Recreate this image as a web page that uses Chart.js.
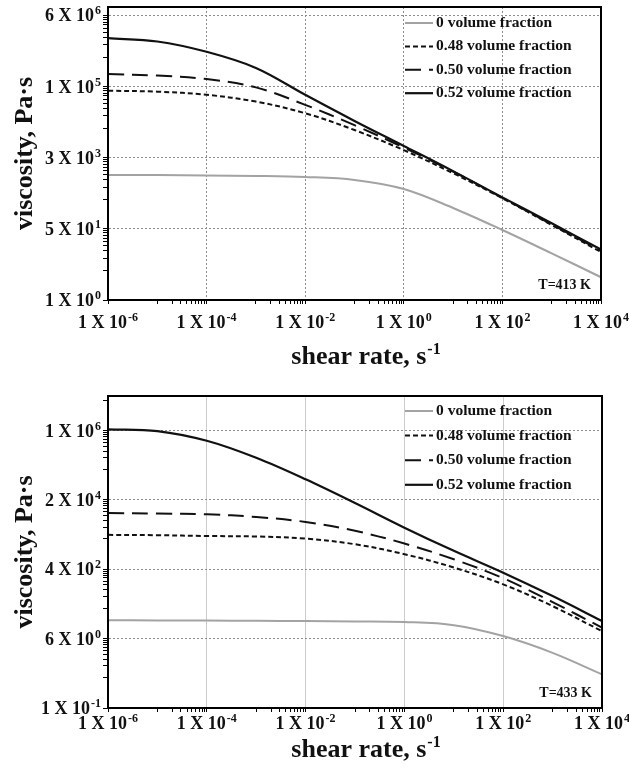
<!DOCTYPE html>
<html><head><meta charset="utf-8">
<script src="https://cdn.jsdelivr.net/npm/chart.js@4"></script>
<style>html,body{margin:0;padding:0;background:#fff;} .w{width:629px;height:386px;position:relative;} canvas{display:block;}</style>
</head><body>
<div class="w"><canvas id="c1" width="629" height="386"></canvas></div>
<div class="w"><canvas id="c2" width="629" height="386"></canvas></div>
<script>
// ---------- data ----------
const shearRate = [1e-6,1e-5,1e-4,1e-3,1e-2,1e-1,1e0,1e1,1e2,1e3,1e4];
const seriesLabels = ['0 volume fraction','0.48 volume fraction','0.50 volume fraction','0.52 volume fraction'];
// T = 413 K
const visc413_000 = [970,970,940,920,870,740,450,158,47,13,3.5];
const visc413_048 = [1.0e5,9.5e4,8.0e4,5.5e4,2.9e4,1.15e4,3800,1070,270,62,14];
const visc413_050 = [2.5e5,2.3e5,1.9e5,1.2e5,4.6e4,1.5e4,4400,1170,277,64,15];
const visc413_052 = [1.8e6,1.5e6,8.5e5,3.5e5,8.0e4,1.9e4,4800,1200,283,68,16];
// T = 433 K
const visc433_000 = [17.8,17.6,17.4,17.2,17,16.6,16,13.3,7,2.6,0.73];
const visc433_048 = [2750,2700,2570,2500,2200,1580,880,400,148,41,9.3];
const visc433_050 = [1.0e4,9700,9300,7900,5900,3500,1650,650,213,52,11.5];
const visc433_052 = [1.4e6,1.26e6,7.1e5,2.6e5,7.3e4,1.8e4,4200,1070,295,74,17];

const xTickValues = [1e-6,1e-4,1e-2,1e0,1e2,1e4];
const xTickLabels = ['1 X 10^-6','1 X 10^-4','1 X 10^-2','1 X 10^0','1 X 10^2','1 X 10^4'];
const yTickValues413 = [1,50,2500,125000,6250000];
const yTickLabels413 = ['1 X 10^0','5 X 10^1','3 X 10^3','1 X 10^5','6 X 10^6'];
const yTickValues433 = [0.1,6,360,21600,1296000];
const yTickLabels433 = ['1 X 10^-1','6 X 10^0','4 X 10^2','2 X 10^4','1 X 10^6'];
const xTitle = 'shear rate, s^-1';
const yTitle = 'viscosity, Pa\u00B7s';

// ---------- helpers ----------
const FONT = '"Liberation Serif", "Times New Roman", serif';

function tickSet(values, labels, min, max) {
  const out = [];
  const ratio = values[1] / values[0];
  const majors = values.concat([values[values.length - 1] * ratio]);
  majors.forEach((M, i) => {
    for (let k = 1; k <= 9; k++) {
      const v = M * k / 10;
      if (v > min * 1.0001 && v < max * 0.9999) out.push({value: v});
    }
    if (i < values.length) out.push({value: M, lab: labels[i]});
  });
  out.sort((a, b) => a.value - b.value);
  return out;
}

// draws "base^exp" with a raised, smaller exponent; (x, yMid) = anchor, vertical middle of digits
function supText(ctx, str, x, yMid, align, size, expSize, rise) {
  const parts = str.split('^');
  const base = parts[0], exp = parts[1] || '';
  ctx.font = 'bold ' + size + 'px ' + FONT;
  const wb = ctx.measureText(base).width;
  ctx.font = 'bold ' + expSize + 'px ' + FONT;
  const we = exp ? ctx.measureText(exp).width + 1 : 0;
  const total = wb + we;
  let x0 = align === 'right' ? x - total : (align === 'center' ? x - total / 2 : x);
  const baseLine = yMid + size * 0.33;
  ctx.textAlign = 'left'; ctx.textBaseline = 'alphabetic';
  ctx.font = 'bold ' + size + 'px ' + FONT;
  ctx.fillText(base, x0, baseLine);
  if (exp) {
    ctx.font = 'bold ' + expSize + 'px ' + FONT;
    ctx.fillText(exp, x0 + wb + 1, baseLine - rise);
  }
}

const styles = [
  {borderColor:'#a3a3a3', borderWidth:2, borderDash:[]},
  {borderColor:'#111', borderWidth:2, borderDash:[5,3]},
  {borderColor:'#111', borderWidth:2, borderDash:[16,8]},
  {borderColor:'#111', borderWidth:2.2, borderDash:[]}
];

const overlay = {
  id: 'overlay',
  afterDatasetsDraw(chart, args, opts) {
    const {ctx, chartArea: a} = chart;
    ctx.save();
    ctx.setLineDash([]);
    ctx.strokeStyle = '#000'; ctx.lineWidth = 2;
    ctx.strokeRect(a.left, a.top, a.right - a.left, a.bottom - a.top);
    // legend
    ctx.font = 'bold 15.5px ' + FONT;
    ctx.textBaseline = 'middle'; ctx.textAlign = 'left';
    chart.data.datasets.forEach((ds, i) => {
      const y = a.top + opts.legendTop + i * opts.legendGap;
      const x0 = a.left + opts.legendLeft;
      ctx.beginPath();
      ctx.setLineDash(ds.borderDash || []);
      ctx.strokeStyle = ds.borderColor; ctx.lineWidth = ds.borderWidth;
      ctx.moveTo(x0, y); ctx.lineTo(x0 + 28, y); ctx.stroke();
      ctx.setLineDash([]);
      ctx.fillStyle = '#111';
      ctx.font = 'bold 15.5px ' + FONT;
      ctx.fillText(ds.label, x0 + 31, y);
    });
    ctx.textAlign = 'right';
    ctx.font = 'bold 14px ' + FONT;
    ctx.fillText(opts.note, a.right - 10, a.bottom - 15);
    // tick labels with superscript exponents
    ctx.fillStyle = '#111';
    const xs = chart.scales.x, ys = chart.scales.y;
    xs.ticks.forEach(t => {
      if (!t.lab) return;
      supText(ctx, t.lab, xs.getPixelForValue(t.value), a.bottom + opts.xLabOffset, 'center', 18, 12, 7);
    });
    ys.ticks.forEach(t => {
      if (!t.lab) return;
      supText(ctx, t.lab, a.left - 7, ys.getPixelForValue(t.value), 'right', 18, 12, 7);
    });
    // x axis title
    supText(ctx, opts.xTitle, opts.xTitleX, opts.xTitleY, 'center', 26, 16, 10);
    ctx.restore();
  }
};

function makeChart(id, cfg) {
  const datasets = cfg.series.map((arr, i) => Object.assign({
    label: seriesLabels[i],
    data: arr.map((v, j) => ({x: shearRate[j], y: v})),
    pointRadius: 0,
    fill: false,
    tension: 0.35
  }, styles[i]));
  const xTicks = tickSet(xTickValues, xTickLabels, 1e-6, 1e4);
  const yTicks = tickSet(cfg.yVals, cfg.yLabs, cfg.yMin, cfg.yMax);
  return new Chart(document.getElementById(id), {
    type: 'line',
    data: {datasets},
    plugins: [overlay],
    options: {
      responsive: false,
      animation: false,
      events: [],
      layout: {padding: {left: 0, right: cfg.padRight, top: cfg.padTop, bottom: 0}},
      plugins: {
        legend: {display: false},
        tooltip: {enabled: false},
        overlay: {legendTop: cfg.legendTop, legendGap: cfg.legendGap, legendLeft: 297, note: cfg.note,
                  xLabOffset: cfg.xLabOffset, xTitle: xTitle, xTitleX: 366, xTitleY: cfg.xTitleY}
      },
      scales: {
        x: {
          type: 'logarithmic', min: 1e-6, max: 1e4,
          afterBuildTicks: s => { s.ticks = xTicks.map(t => Object.assign({}, t)); },
          afterFit: s => { s.height = cfg.xHeight; s.paddingLeft = 0; s.paddingRight = 0; },
          ticks: {autoSkip: false, maxRotation: 0, minRotation: 0, padding: 0, callback: () => ''},
          grid: {
            color: c => (c.tick && c.tick.lab) ? cfg.xGridColor : 'rgba(0,0,0,0)',
            lineWidth: 1, tickColor: '#000', tickLength: 4, tickWidth: 1
          },
          border: {display: true, color: '#000', width: 2, dash: cfg.xGridDash},
          title: {display: false}
        },
        y: {
          type: 'logarithmic', min: cfg.yMin, max: cfg.yMax,
          afterBuildTicks: s => { s.ticks = yTicks.map(t => Object.assign({}, t)); },
          afterFit: s => { s.width = 108; s.paddingTop = 0; s.paddingBottom = 0; },
          ticks: {autoSkip: false, padding: 0, callback: () => ''},
          grid: {
            color: c => (c.tick && c.tick.lab) ? '#8c8c8c' : 'rgba(0,0,0,0)',
            lineWidth: 1, tickColor: '#000', tickLength: 5, tickWidth: 1
          },
          border: {display: true, color: '#000', width: 2, dash: [2, 2]},
          title: {display: true, text: yTitle, color: '#111',
                  font: {family: FONT, size: 26, weight: 'bold'}, padding: {top: 10, bottom: 0}}
        }
      }
    }
  });
}

makeChart('c1', {
  series: [visc413_000, visc413_048, visc413_050, visc413_052],
  yVals: yTickValues413, yLabs: yTickLabels413, yMin: 1, yMax: 1e7,
  padTop: 7, padRight: 28, xHeight: 86, xLabOffset: 22, xTitleY: 355,
  xGridColor: '#8c8c8c', xGridDash: [2, 2],
  legendTop: 16, legendGap: 23.4, note: 'T=413 K'
});
makeChart('c2', {
  series: [visc433_000, visc433_048, visc433_050, visc433_052],
  yVals: yTickValues433, yLabs: yTickLabels433, yMin: 0.1, yMax: 1e7,
  padTop: 10, padRight: 27, xHeight: 64, xLabOffset: 15, xTitleY: 362,
  xGridColor: '#cccccc', xGridDash: [],
  legendTop: 15, legendGap: 24.6, note: 'T=433 K'
});
</script>
</body></html>
